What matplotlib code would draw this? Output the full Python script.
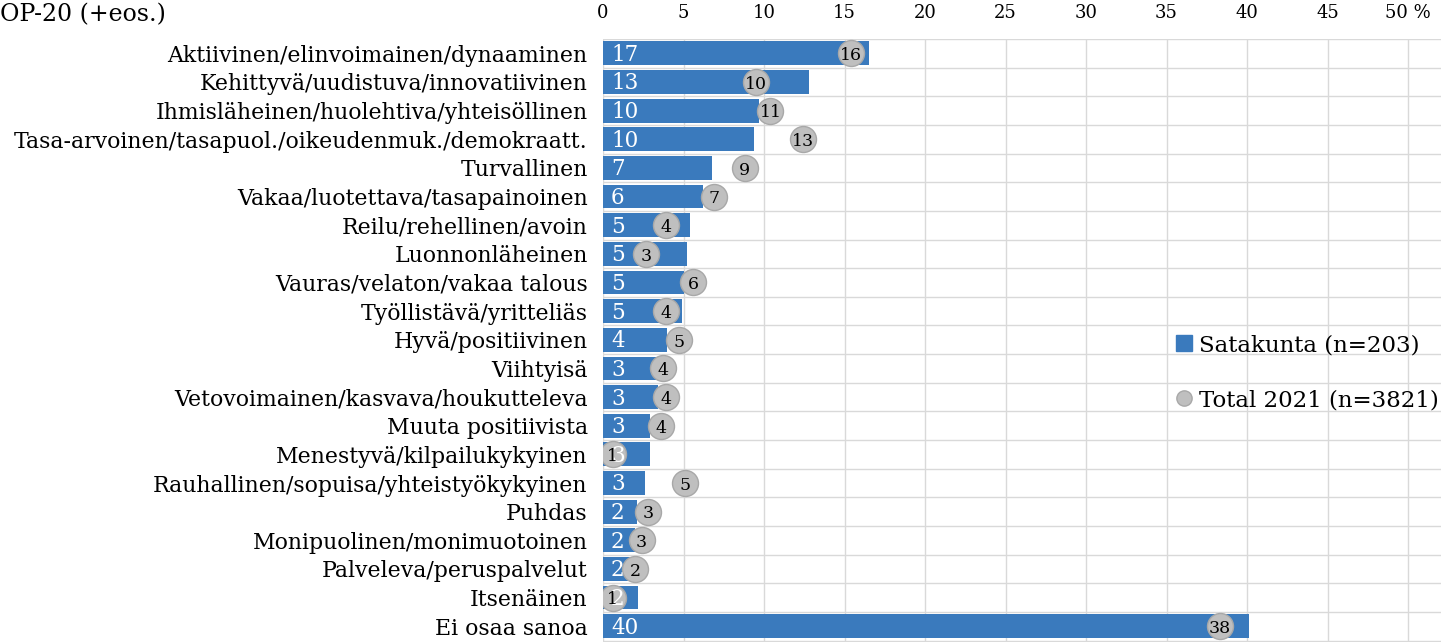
import numpy as np
import matplotlib.pyplot as plt
from matplotlib.lines import Line2D
from matplotlib.patches import Patch

categories = [
    "Aktiivinen/elinvoimainen/dynaaminen",
    "Kehittyvä/uudistuva/innovatiivinen",
    "Ihmisläheinen/huolehtiva/yhteisöllinen",
    "Tasa-arvoinen/tasapuol./oikeudenmuk./demokraatt.",
    "Turvallinen",
    "Vakaa/luotettava/tasapainoinen",
    "Reilu/rehellinen/avoin",
    "Luonnonläheinen",
    "Vauras/velaton/vakaa talous",
    "Työllistävä/yritteliäs",
    "Hyvä/positiivinen",
    "Viihtyisä",
    "Vetovoimainen/kasvava/houkutteleva",
    "Muuta positiivista",
    "Menestyvä/kilpailukykyinen",
    "Rauhallinen/sopuisa/yhteistyökykyinen",
    "Puhdas",
    "Monipuolinen/monimuotoinen",
    "Palveleva/peruspalvelut",
    "Itsenäinen",
    "Ei osaa sanoa",
]
satakunta = [16.5, 12.8, 9.7, 9.4, 6.8, 6.2, 5.4, 5.2, 5.0, 4.9, 4.0, 3.4, 3.4,
             2.9, 2.9, 2.6, 2.1, 2.0, 1.8, 2.2, 40.1]
total = [15.4, 9.5, 10.4, 12.4, 8.8, 6.9, 3.9, 2.7, 5.6, 3.9, 4.7, 3.7, 3.9,
         3.6, 0.6, 5.1, 2.8, 2.4, 2.0, 0.6, 38.3]
satakunta_labels = [17, 13, 10, 10, 7, 6, 5, 5, 5, 5, 4, 3, 3, 3, 3, 3, 2, 2, 2, 2, 40]
total_labels = [16, 10, 11, 13, 9, 7, 4, 3, 6, 4, 5, 4, 4, 4, 1, 5, 3, 3, 2, 1, 38]
xticks = [0, 5, 10, 15, 20, 25, 30, 35, 40, 45, 50]
xticklabels = ["0", "5", "10", "15", "20", "25", "30", "35", "40", "45", "50 %"]

blue = "#3a7abd"
grey = "#bfbfbf"
serif = "DejaVu Serif"

fig = plt.figure(figsize=(14.41, 6.42), dpi=100)
ax = fig.add_axes([603 / 1441, 0, 838 / 1441, 1 - 39 / 642])

y = np.arange(len(categories))
ax.barh(y, satakunta, height=0.83, color=blue, zorder=2)
ax.scatter(total, y, s=350, color=grey, edgecolor="#a8a8a8", linewidth=1, zorder=3)

for yi, v in zip(y, satakunta_labels):
    ax.text(0.5, yi + 0.05, str(v), color="white", fontsize=15.5, family=serif,
            ha="left", va="center", zorder=4)
for yi, x, v in zip(y, total, total_labels):
    ax.text(x, yi + 0.08, str(v), color="black", fontsize=12.5, family=serif,
            ha="center", va="center", zorder=5)

ax.set_xlim(0, 838 / 16.1)
ax.set_ylim(20.55, -0.5)

ax.set_yticks(y)
ax.set_yticklabels(categories, family=serif, fontsize=15.8)
ax.set_yticks(np.arange(-0.5, len(categories), 1), minor=True)
ax.xaxis.tick_top()
ax.set_xticks(xticks)
ax.set_xticklabels(xticklabels, family=serif, fontsize=13)
ax.tick_params(axis="both", which="both", length=0)
ax.tick_params(axis="x", pad=12)
ax.tick_params(axis="y", pad=11)

ax.grid(axis="x", which="major", color="#d9d9d9", linewidth=1, zorder=0)
ax.grid(axis="y", which="minor", color="#d9d9d9", linewidth=1, zorder=0)
ax.set_axisbelow(True)
for s in ax.spines.values():
    s.set_visible(False)

handles = [
    Patch(facecolor=blue, edgecolor=blue, label="Satakunta (n=203)"),
    Line2D([], [], marker="o", linestyle="none", markersize=11, markerfacecolor=grey,
           markeredgecolor="#a8a8a8", label="Total 2021 (n=3821)"),
]
ax.legend(handles=handles, loc="upper left", bbox_to_anchor=(1167 / 1441, 1 - 325 / 642),
          bbox_transform=fig.transFigure, frameon=False, prop={"family": serif, "size": 16.5},
          handlelength=0.7, handletextpad=0.3, labelspacing=1.45, borderaxespad=0)

fig.text(0.0, 1 - 15 / 642, "OP-20 (+eos.)", family=serif, fontsize=17, va="center", ha="left")

fig.savefig("out.png", dpi=100)
